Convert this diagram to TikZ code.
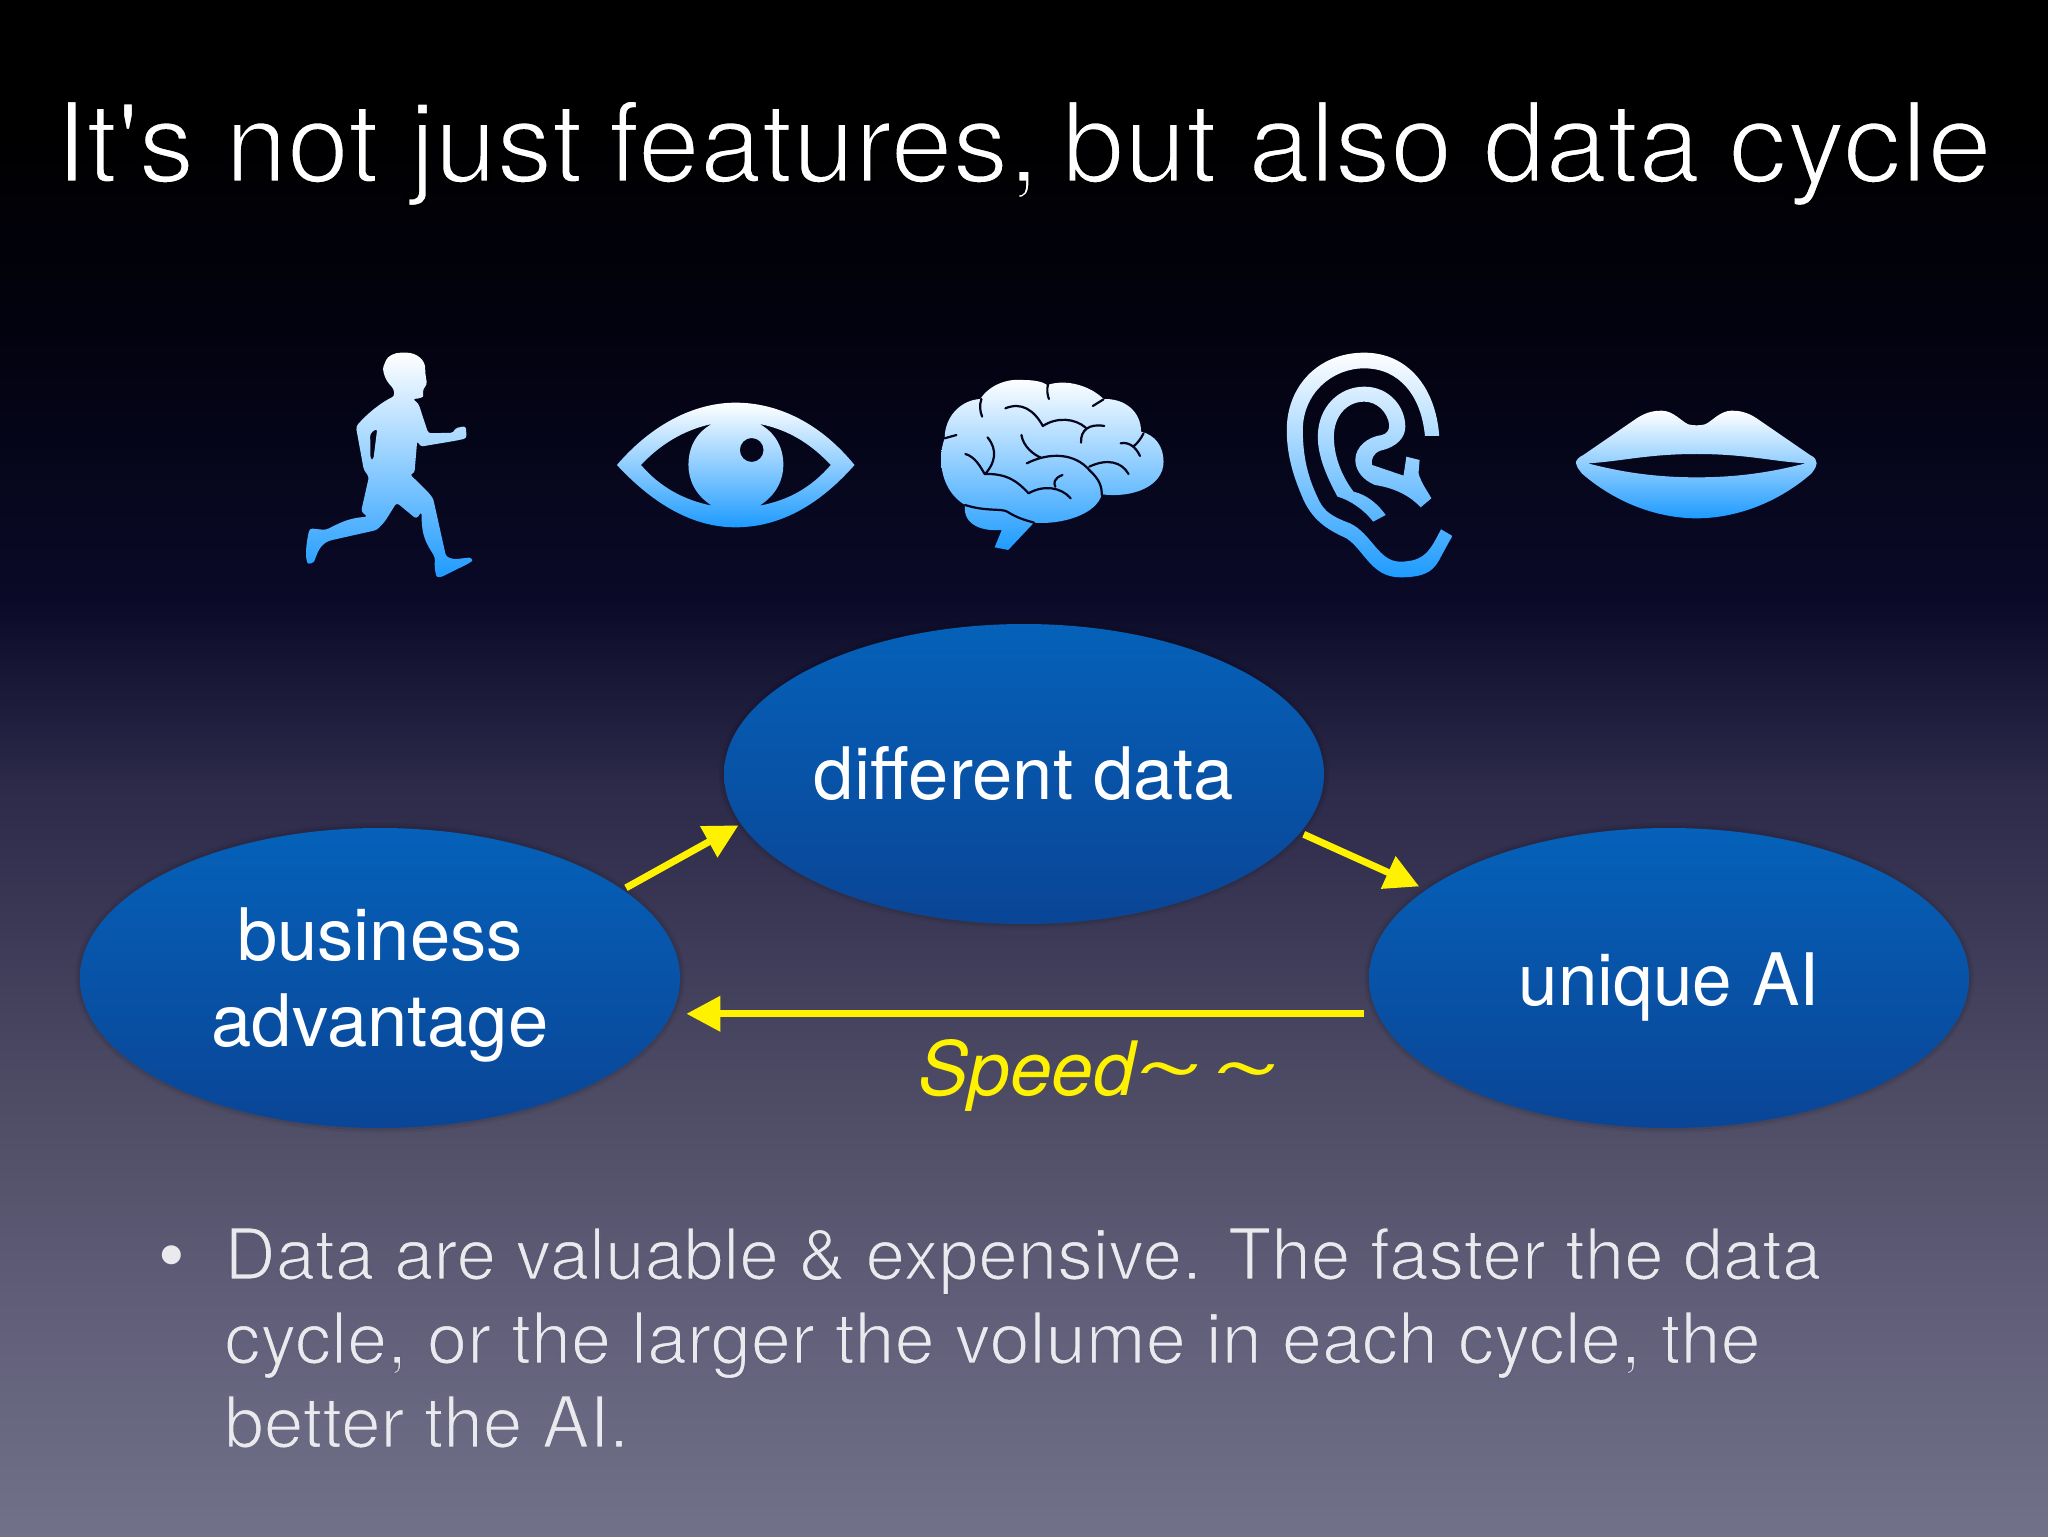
\documentclass[tikz,border=0pt]{standalone}
\usepackage{fontspec}
\usetikzlibrary{arrows.meta,shapes.geometric}
\setmainfont{TeX Gyre Heros}
\newfontfamily\lightfont{TeX Gyre Heros}[FakeBold=2.4]
\definecolor{iconblue}{HTML}{1E9BFF}
\definecolor{bubtop}{HTML}{0561B9}
\definecolor{bubbot}{HTML}{0A4596}
\definecolor{gapdark}{HTML}{04041A}
\definecolor{bodytext}{HTML}{E9E9EE}
\definecolor{bga}{HTML}{72718A}
\definecolor{bgb}{HTML}{5F5D77}
\definecolor{bgc}{HTML}{4F4D66}
\definecolor{bgd}{HTML}{2D2A4A}
\definecolor{bge}{HTML}{0A0A28}
\definecolor{bgf}{HTML}{02020F}
\definecolor{bgg}{HTML}{010106}
\definecolor{bgh}{HTML}{000000}
\pgfdeclareverticalshading{slidebg}{100bp}{
 color(0bp)=(bga);
 color(25bp)=(bga);
 color(32.7bp)=(bgb);
 color(38.9bp)=(bgc);
 color(49.3bp)=(bgd);
 color(55.5bp)=(bge);
 color(64.3bp)=(bgf);
 color(68.5bp)=(bgg);
 color(71bp)=(bgh);
 color(75bp)=(bgh);
 color(100bp)=(bgh)}
\newcommand{\bodya}{\lightfont\special{pdf:code 0.36 0.353 0.45 RG}}
\newcommand{\bodyb}{\lightfont\special{pdf:code 0.385 0.376 0.478 RG}}
\newcommand{\bodyc}{\lightfont\special{pdf:code 0.416 0.412 0.51 RG}}
\tikzset{
 icon/.style={top color=white,bottom color=iconblue,draw=none,even odd rule},
 fold/.style={draw=gapdark,line width=1.1pt,line cap=round,line join=round},
 bub/.style={ellipse,minimum width=300pt,minimum height=150pt,inner sep=0pt,outer sep=0pt,
   top color=bubtop,bottom color=bubbot,text=white,align=center,
   font=\fontsize{36.2}{43}\selectfont,
   preaction={draw=black,opacity=.05,line width=5pt},
   preaction={draw=black,opacity=.07,line width=2.5pt}},
 arr/.style={draw=yellow,line width=3.5pt,-{Triangle[length=17pt,width=17pt,fill=yellow]}},
}
\begin{document}
\begin{tikzpicture}[x=.5pt,y=-.5pt]
\useasboundingbox (0,0) rectangle (2048,1536);
\path[shading=slidebg] (0,0) rectangle (2048,1536);
% title
\node[anchor=base west,inner sep=0pt,text=white] (title) at (55,182)
 {\fontsize{55.7}{60}\lightfont\special{pdf:code 0 0 0 RG}It's not just \kern-2.6pt features, \kern-3.9pt but also data \kern-1.3pt\scalebox{1.047}[1]{cycle}};
% runner
\begin{scope}[shift={(280,330)},xscale=.3954,yscale=.3333]
\path[icon,rounded corners=1.5pt] (313,68) .. controls (345,68) and (368,90) .. (367,125) -- (372,165) -- (362,175) .. controls (362,190) and (362,200) .. (355,205)
 -- (335,207) -- (350,220) -- (375,310) -- (440,308) -- (442,295) -- (470,288) -- (472,325) -- (445,332) -- (355,350) -- (347,332) -- (340,430) -- (328,432)
 .. controls (360,470) and (385,495) .. (390,520) -- (405,600) -- (420,680) -- (440,688) -- (485,682) .. controls (487,695) and (470,705) .. (440,722)
 -- (405,743) .. controls (395,740) and (390,720) .. (392,682) .. controls (370,640) and (358,620) .. (358,545) -- (345,567) -- (295,518) -- (265,575) -- (245,600) -- (125,632)
 .. controls (95,650) and (90,690) .. (80,702) .. controls (65,700) and (62,660) .. (75,595) -- (115,600) .. controls (150,580) and (170,565) .. (222,560) -- (205,545) -- (225,440) -- (212,420) -- (192,290)
 .. controls (225,245) and (260,215) .. (290,198) -- (287,175) .. controls (265,150) and (258,120) .. (265,100) .. controls (272,78) and (290,68) .. cycle
 (228,310) -- (246,295) -- (236,390) -- (229,390) -- cycle;
\end{scope}
% eye
\begin{scope}[shift={(280,330)},xscale=.3954,yscale=.3333]
\path[icon] (852,405) .. controls (950,270) and (1060,218) .. (1152,218) .. controls (1250,218) and (1360,270) .. (1453,405)
 .. controls (1360,530) and (1260,592) .. (1152,592) .. controls (1050,592) and (950,530) .. (852,405) -- cycle
 (913,405) .. controls (960,345) and (1020,300) .. (1092,282) .. controls (1050,310) and (1033,355) .. (1033,405) .. controls (1033,450) and (1050,495) .. (1092,527) .. controls (1020,510) and (960,470) .. (913,405) -- cycle
 (1393,405) .. controls (1345,345) and (1290,300) .. (1213,282) .. controls (1255,310) and (1273,355) .. (1273,405) .. controls (1273,450) and (1255,495) .. (1213,527) .. controls (1290,510) and (1345,470) .. (1393,405) -- cycle
 (1193,360) ellipse [x radius=30,y radius=36];
\end{scope}
% brain
\begin{scope}[shift={(900,330)},xscale=.3571,yscale=.3333]
\path[icon] (125,325) .. controls (125,260) and (170,210) .. (225,207) .. controls (250,165) and (300,145) .. (345,150) .. controls (375,150) and (400,155) .. (412,165)
 .. controls (470,145) and (535,170) .. (570,207) .. controls (630,205) and (675,245) .. (675,305) .. controls (715,315) and (738,350) .. (738,395)
 .. controls (738,470) and (650,505) .. (565,493) .. controls (550,555) and (450,585) .. (375,578) -- (303,660) -- (265,652) -- (285,600)
 .. controls (230,605) and (175,585) .. (182,525) .. controls (135,495) and (115,440) .. (115,385) .. controls (115,360) and (120,340) .. (125,325) -- cycle;
\path[fold] (125,325) -- (158,315)
 (228,207) .. controls (222,225) and (224,245) .. (230,260)
 (415,160) .. controls (410,180) and (413,195) .. (417,207)
 (570,208) -- (540,228)
 (295,235) .. controls (340,215) and (375,240) .. (400,288) .. controls (440,260) and (490,265) .. (520,293)
 (572,288) .. controls (530,280) and (505,300) .. (507,338)
 (340,315) .. controls (345,350) and (375,375) .. (395,383)
 (355,400) .. controls (420,365) and (490,370) .. (530,420) .. controls (560,450) and (565,470) .. (565,495)
 (245,322) .. controls (275,360) and (265,400) .. (240,430)
 (183,372) .. controls (210,380) and (225,410) .. (237,432) .. controls (300,430) and (330,455) .. (360,490) .. controls (400,465) and (450,470) .. (478,505)
 (455,435) .. controls (430,445) and (430,460) .. (435,470)
 (530,410) .. controls (580,385) and (620,395) .. (640,432)
 (618,340) .. controls (640,335) and (660,350) .. (672,378)
 (682,310) .. controls (675,325) and (665,340) .. (655,348)
 (182,525) .. controls (240,545) and (285,535) .. (300,545) .. controls (330,565) and (350,570) .. (375,578);
\end{scope}
% ear
\begin{scope}[shift={(900,330)},xscale=.3571,yscale=.3333]
\path[icon] (1510,318) .. controls (1500,170) and (1420,68) .. (1300,68) .. controls (1170,68) and (1083,170) .. (1083,300) .. controls (1083,390) and (1110,460) .. (1130,510)
 .. controls (1160,580) and (1210,605) .. (1250,625) .. controls (1300,660) and (1320,742) .. (1400,742) .. controls (1460,742) and (1490,730) .. (1510,690) .. controls (1525,660) and (1535,640) .. (1547,618)
 -- (1515,598) .. controls (1485,660) and (1470,695) .. (1400,695) .. controls (1340,695) and (1320,610) .. (1260,580) .. controls (1210,560) and (1190,545) .. (1175,515)
 .. controls (1150,460) and (1128,400) .. (1128,300) .. controls (1128,190) and (1210,115) .. (1300,115) .. controls (1400,115) and (1460,200) .. (1470,318) -- cycle
 (1325,575) .. controls (1300,540) and (1260,510) .. (1225,500) .. controls (1195,440) and (1170,380) .. (1170,320) .. controls (1170,230) and (1230,170) .. (1300,170)
 .. controls (1370,170) and (1415,230) .. (1415,290) .. controls (1415,320) and (1395,350) .. (1345,362) .. controls (1325,370) and (1318,390) .. (1322,405) -- (1410,437) -- (1418,380) -- (1455,390) -- (1452,430)
 .. controls (1460,460) and (1475,480) .. (1488,505) -- (1458,532) .. controls (1430,500) and (1390,475) .. (1330,465) .. controls (1295,450) and (1275,420) .. (1275,390) .. controls (1275,350) and (1310,320) .. (1350,315)
 .. controls (1365,310) and (1370,300) .. (1370,285) .. controls (1365,245) and (1335,215) .. (1300,215) .. controls (1250,215) and (1215,260) .. (1215,320) .. controls (1215,390) and (1245,450) .. (1270,485) .. controls (1310,495) and (1340,525) .. (1360,555) -- cycle;
\end{scope}
% lips
\begin{scope}[shift={(1540,380)},xscale=.3333,yscale=.3333]
\path[icon] (108,250) .. controls (108,240) and (115,232) .. (130,225) -- (290,115) .. controls (320,95) and (345,92) .. (365,92) .. controls (400,92) and (425,125) .. (445,133) .. controls (460,137) and (480,137) .. (495,133) .. controls (515,125) and (540,92) .. (575,92)
 .. controls (595,92) and (620,95) .. (650,115) -- (810,225) .. controls (825,232) and (830,240) .. (830,250) .. controls (830,260) and (825,265) .. (815,280) .. controls (700,380) and (570,415) .. (470,415) .. controls (370,415) and (240,380) .. (125,280) .. controls (115,265) and (108,260) .. (108,250) -- cycle
 (143,250) .. controls (240,245) and (320,222) .. (470,222) .. controls (620,222) and (700,245) .. (797,250) .. controls (700,275) and (600,292) .. (470,292) .. controls (340,292) and (240,275) .. (143,250) -- cycle;
\end{scope}
% bubbles
\node[bub] (diff) at (1024,774) {different data};
\node[bub] (biz) at (380,978) {\raisebox{9pt}[0pt][0pt]{\begin{tabular}[t]{@{}c@{}}business\\advantage\end{tabular}}};
\node[bub] (uni) at (1669,978) {\raisebox{-13.5pt}[0pt][0pt]{\scalebox{.98}[1]{unique AI}}};
% connectors
\draw[arr,shorten <=2pt,shorten >=1.5pt] (biz.20) -- (diff.190.7);
\draw[arr,shorten <=2pt,shorten >=4pt] (diff.-12.5) -- (uni.160.4);
\draw[arr,shorten >=7.5pt,shorten <=7pt] (uni.187.05) -- (biz.-7.05);
\node[anchor=base west,inner sep=0pt,text=yellow,font=\fontsize{37.5}{40}\selectfont\itshape] (speed) at (918,1095)
 {Speed\kern-2.6pt\scalebox{1.65}[1]{\char"7E}\kern 2.4pt\scalebox{1.65}[1]{\char"7E}};
% bullet list
\node[anchor=base,inner sep=0pt,text=bodytext,font=\fontsize{38}{42}\selectfont] (dot) at (172,1281) {\char"2022};
\node[anchor=north west,inner sep=0pt,text=bodytext,align=left,font=\fontsize{35.5}{42}\selectfont] (body) at (224,1227)
 {\bodya Data are valuable \& expensive. The faster the data\\
 \scalebox{1.0147}[1]{\bodyb cycle, or the larger the volume in each cycle, the}\\
 \bodyc better the AI.};
\end{tikzpicture}
\end{document}
